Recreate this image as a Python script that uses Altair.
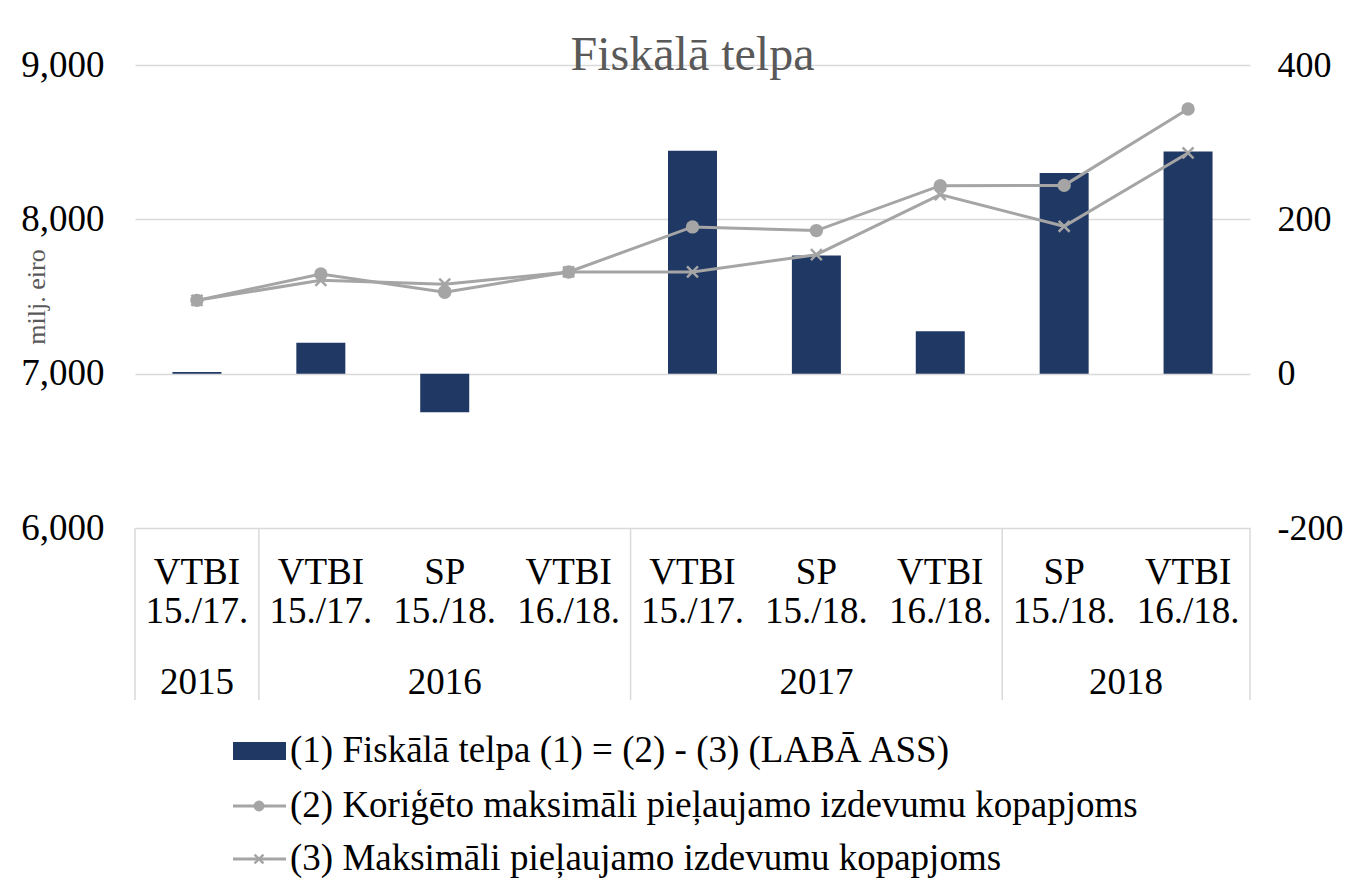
import altair as alt
import pandas as pd

# ---- data ----
cat_top = ["VTBI", "VTBI", "SP", "VTBI", "VTBI", "SP", "VTBI", "SP", "VTBI"]
cat_bottom = ["15./17.", "15./17.", "15./18.", "16./18.", "15./17.", "15./18.", "16./18.", "15./18.", "16./18."]
years = ["2015", "2016", "2016", "2016", "2017", "2017", "2017", "2018", "2018"]
fiskala = [2, 40, -50, 0, 289, 153, 55, 260, 288]            # right axis
korigeto = [7475, 7646, 7528, 7659, 7951, 7927, 8218, 8220, 8715]   # left axis
maksimali = [7475, 7605, 7580, 7659, 7659, 7771, 8160, 7955, 8430]  # left axis

legend_labels = [
    "(1) Fiskālā telpa (1) = (2) - (3) (LABĀ ASS)",
    "(2) Koriģēto maksimāli pieļaujamo izdevumu kopapjoms",
    "(3) Maksimāli pieļaujamo izdevumu kopapjoms",
]
title_text = "Fiskālā telpa"
y_title = "milj. eiro"

# ---- tables ----
n = len(cat_top)
df = pd.DataFrame({
    "idx": list(range(n)),
    "top": cat_top,
    "bottom": cat_bottom,
    "year": years,
    "fiskala": fiskala,
    "korigeto": korigeto,
    "maksimali": maksimali,
})
yr = df.groupby("year", sort=False)["idx"].agg(["min", "max"]).reset_index()
yr["mid"] = (yr["min"] + yr["max"]) / 2
seps = pd.DataFrame({"x": [-0.5] + [m + 0.5 for m in yr["max"].tolist()]})

FONT = "Liberation Serif"
FS = 37
NAVY = "#203864"
GRAY = "#a5a5a5"
GRID = "#d9d9d9"
W, H = 1115, 463

xs = alt.Scale(domain=[-0.5, n - 0.5], nice=False, zero=False, padding=0)
X = alt.X("idx:Q", scale=xs, axis=None)

left_scale = alt.Scale(domain=[6000, 9000], nice=False, zero=False)
right_scale = alt.Scale(domain=[-200, 400], nice=False)

base = alt.Chart(df)

bars = base.mark_bar(size=49, color=NAVY).encode(
    x=X,
    y=alt.Y("fiskala:Q", scale=right_scale,
            axis=alt.Axis(orient="right", values=[-200, 0, 200, 400], grid=False,
                          domain=False, ticks=False, labelFontSize=36, labelFont=FONT,
                          labelColor="#000000", labelPadding=27, title=None,
                          labelExpr="datum.value < 0 ? '-' + abs(datum.value) : '' + datum.value")),
)

left_axis = alt.Axis(orient="left", values=[6000, 7000, 8000, 9000],
                     labelExpr="format(datum.value, ',')",
                     grid=True, gridColor=GRID, gridWidth=1.5, domain=False, ticks=False,
                     labelFontSize=FS, labelFont=FONT, labelColor="#000000",
                     labelPadding=31, title=None)

line2 = base.mark_line(color=GRAY, strokeWidth=3).encode(
    x=X, y=alt.Y("korigeto:Q", scale=left_scale, axis=left_axis))
pts2 = base.mark_point(shape="circle", filled=True, color=GRAY, size=180, opacity=1).encode(
    x=X, y=alt.Y("korigeto:Q", scale=left_scale, axis=left_axis))
line3 = base.mark_line(color=GRAY, strokeWidth=3).encode(
    x=X, y=alt.Y("maksimali:Q", scale=left_scale, axis=left_axis))
pts3 = base.mark_point(shape="M-1,-1L1,1M-1,1L1,-1", filled=False, color=GRAY,
                       size=120, strokeWidth=2.5, opacity=1).encode(
    x=X, y=alt.Y("maksimali:Q", scale=left_scale, axis=left_axis))

left_layer = alt.layer(line2, pts2, line3, pts3)

# multi-level category axis drawn below the plot
top_txt = base.mark_text(font=FONT, fontSize=FS, color="#000000", baseline="middle").encode(
    x=X, y=alt.value(508), text="top:N")
bot_txt = base.mark_text(font=FONT, fontSize=FS, color="#000000", baseline="middle").encode(
    x=X, y=alt.value(547), text="bottom:N")
yr_txt = alt.Chart(yr).mark_text(font=FONT, fontSize=FS, color="#000000", baseline="middle").encode(
    x=alt.X("mid:Q", scale=xs, axis=None), y=alt.value(618), text="year:N")
sep_rules = alt.Chart(seps).mark_rule(color=GRID, strokeWidth=1.5).encode(
    x=alt.X("x:Q", scale=xs, axis=None), y=alt.value(H), y2=alt.value(635))

# title and y-axis title as text
title_df = pd.DataFrame({"t": [title_text]})
title_mark = alt.Chart(title_df).mark_text(font=FONT, fontSize=48, color="#595959",
                                           baseline="alphabetic", align="center").encode(
    x=alt.value(W / 2), y=alt.value(5), text="t:N")
ytitle_df = pd.DataFrame({"t": [y_title]})
ytitle_mark = alt.Chart(ytitle_df).mark_text(font=FONT, fontSize=26, color="#595959",
                                             angle=270, align="center", baseline="middle").encode(
    x=alt.value(-98), y=alt.value(232), text="t:N")

# legend (manual, matching reference layout)
leg_y = [686, 741, 794]
leg_layers = []
leg_layers.append(alt.Chart(pd.DataFrame({"k": [0]})).mark_rect(color=NAVY).encode(
    x=alt.value(98), x2=alt.value(151), y=alt.value(leg_y[0] - 9), y2=alt.value(leg_y[0] + 9)))
for r in (1, 2):
    leg_layers.append(alt.Chart(pd.DataFrame({"k": [r]})).mark_rule(color=GRAY, strokeWidth=3).encode(
        x=alt.value(98), x2=alt.value(151), y=alt.value(leg_y[r])))
leg_layers.append(alt.Chart(pd.DataFrame({"k": [1]})).mark_point(
    shape="circle", filled=True, color=GRAY, size=120, opacity=1).encode(
    x=alt.value(124), y=alt.value(leg_y[1])))
leg_layers.append(alt.Chart(pd.DataFrame({"k": [2]})).mark_point(
    shape="M-1,-1L1,1M-1,1L1,-1", filled=False, color=GRAY, size=80, strokeWidth=2.5,
    opacity=1).encode(x=alt.value(124), y=alt.value(leg_y[2])))
for r, lab in enumerate(legend_labels):
    leg_layers.append(alt.Chart(pd.DataFrame({"label": [lab]})).mark_text(
        font=FONT, fontSize=FS, color="#000000", align="left", baseline="middle").encode(
        x=alt.value(155), y=alt.value(leg_y[r]), text="label:N"))

chart = alt.layer(
    bars, left_layer, sep_rules, top_txt, bot_txt, yr_txt, title_mark, ytitle_mark,
    *leg_layers,
).resolve_scale(y="independent").properties(
    width=W, height=H,
    autosize=alt.AutoSizeParams(type="none"),
    padding={"left": 127, "top": 57, "right": 96, "bottom": 353},
    background="#ffffff",
).configure_view(stroke=None)

chart.save("out.html", embed_options={"renderer": "svg", "actions": False})
